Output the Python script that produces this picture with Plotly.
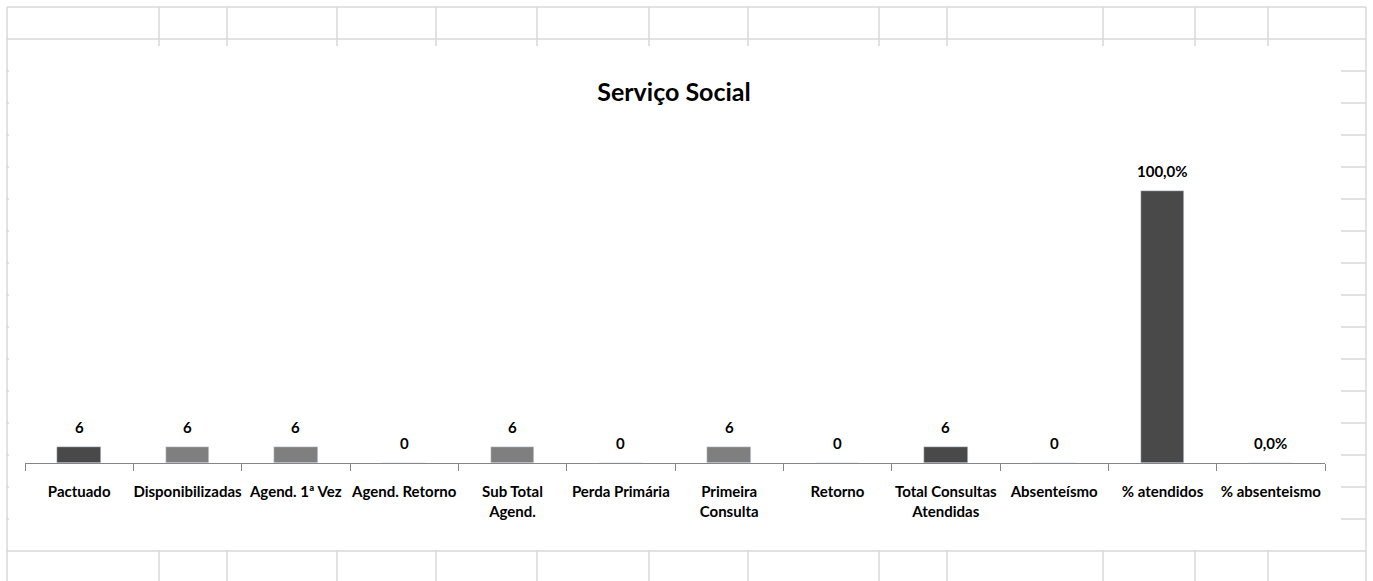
import plotly.graph_objects as go

# ---- data ----
categories = ["Pactuado", "Disponibilizadas", "Agend. 1ª Vez", "Agend. Retorno",
              "Sub Total<br>Agend.", "Perda Primária", "Primeira<br>Consulta", "Retorno",
              "Total Consultas<br>Atendidas", "Absenteísmo", "% atendidos", "% absenteismo"]
values = [6, 6, 6, 0, 6, 0, 6, 0, 6, 0, 100, 0]
value_labels = ["6", "6", "6", "0", "6", "0", "6", "0", "6", "0", "100,0%", "0,0%"]
DARK, GRAY = "#494949", "#7f7f7f"
bar_colors = [DARK, GRAY, GRAY, GRAY, GRAY, GRAY, GRAY, GRAY, DARK, DARK, DARK, DARK]
title_text = "Serviço Social"

W, H = 1373, 581
FONT = "Lato, Liberation Sans, sans-serif"

def px(x):
    return x / W

def py(y):
    return 1 - y / H

fig = go.Figure()
fig.add_trace(go.Bar(
    x=categories, y=values, marker_color=bar_colors, width=0.406,
    hoverinfo="x+y", showlegend=False,
))

for c, v, t in zip(categories, values, value_labels):
    fig.add_annotation(x=c, y=v, xref="x", yref="y", text=f"<b>{t}</b>",
                       showarrow=False, yanchor="bottom", yshift=9,
                       font=dict(family=FONT, size=15, color="#000000"))

# ---- spreadsheet grid behind the chart ----
GRID = "#d9d9d9"
shapes = []

def line(x0, y0, x1, y1):
    shapes.append(dict(type="line", xref="paper", yref="paper",
                       x0=px(x0), y0=py(y0), x1=px(x1), y1=py(y1),
                       line=dict(color=GRID, width=1.5), layer="below"))

row_ys = [7] + [39 + 32 * k for k in range(17)]
for y in row_ys:
    line(7, y, 1366, y)
col_top = [159, 227, 337, 436, 537, 649, 748, 879, 947, 1103, 1195, 1268]
for x in col_top:
    line(x, 7, x, 46)
    line(x, 550, x, 581)
line(7, 7, 7, 581)
line(1366, 7, 1366, 581)
# chart area (white) covering the grid
shapes.append(dict(type="rect", xref="paper", yref="paper",
                   x0=px(9), x1=px(1341), y0=py(549), y1=py(46),
                   fillcolor="white", line=dict(width=0), layer="below"))

fig.update_layout(
    width=W, height=H,
    margin=dict(l=0, r=0, t=0, b=0, autoexpand=False),
    paper_bgcolor="white", plot_bgcolor="rgba(0,0,0,0)",
    shapes=shapes,
    bargap=0,
    title=dict(text=f"<b>{title_text}</b>", x=px(674), xanchor="center",
               y=py(92), yanchor="middle",
               font=dict(family=FONT, size=25, color="#000000")),
    xaxis=dict(domain=[px(25), px(1325)], showline=True, linecolor="#868686",
               linewidth=1, ticks="outside", tickson="boundaries", ticklen=7,
               tickcolor="#868686", showgrid=False, zeroline=False,
               automargin=False, tickangle=0,
               ticklabelstandoff=15,
               tickfont=dict(family=FONT, size=15, color="#000000"),
               tickprefix="<b>", ticksuffix="</b>", fixedrange=True),
    yaxis=dict(domain=[py(463), py(150)], range=[0, 115], visible=False,
               automargin=False, fixedrange=True),
)

fig.write_html("out.html")
